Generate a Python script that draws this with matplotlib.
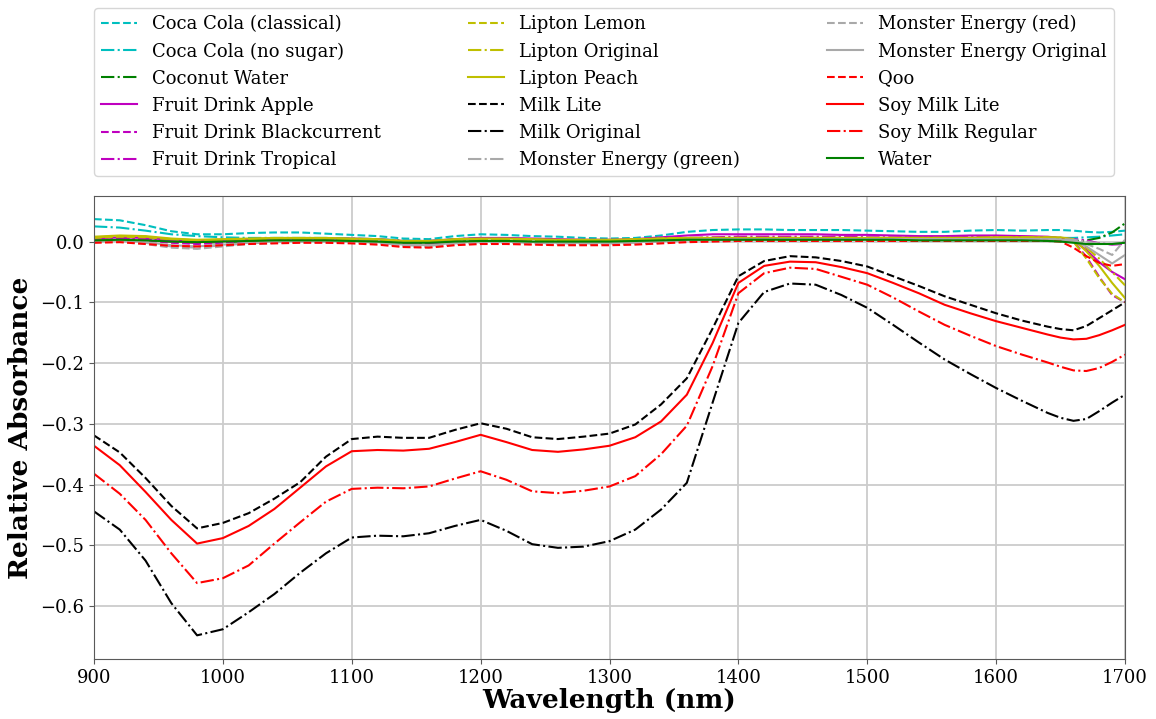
import matplotlib
matplotlib.use("Agg")
import matplotlib.pyplot as plt

# ==================== DATEN ====================
# Wellenlaengen (nm): alle 20 nm, am Ende alle 10 nm
wavelength = [900, 920, 940, 960, 980, 1000, 1020, 1040, 1060, 1080,
              1100, 1120, 1140, 1160, 1180, 1200, 1220, 1240, 1260, 1280,
              1300, 1320, 1340, 1360, 1380, 1400, 1420, 1440, 1460, 1480,
              1500, 1520, 1540, 1560, 1580, 1600, 1620, 1640,
              1650, 1660, 1670, 1680, 1690, 1700]

coca_classical = [0.037, 0.035, 0.027, 0.017, 0.012, 0.012, 0.014, 0.015, 0.015, 0.013,
                  0.011, 0.009, 0.005, 0.004, 0.009, 0.012, 0.011, 0.009, 0.008, 0.006,
                  0.005, 0.006, 0.010, 0.016, 0.019, 0.020, 0.020, 0.019, 0.019, 0.019,
                  0.018, 0.017, 0.016, 0.016, 0.018, 0.019, 0.018, 0.019,
                  0.019, 0.018, 0.016, 0.015, 0.016, 0.018]
coca_nosugar = [0.025, 0.023, 0.018, 0.012, 0.009, 0.007, 0.006, 0.006, 0.006, 0.006,
                0.005, 0.004, 0.002, 0.001, 0.004, 0.006, 0.005, 0.004, 0.002, 0.001,
                0.000, 0.001, 0.003, 0.005, 0.006, 0.006, 0.006, 0.006, 0.006, 0.006,
                0.005, 0.005, 0.005, 0.005, 0.006, 0.006, 0.006, 0.006,
                0.006, 0.006, 0.007, 0.008, 0.010, 0.012]
coconut_water = [0.004, 0.005, 0.003, 0.000, -0.002, -0.001, 0.000, 0.001, 0.001, 0.001,
                 0.001, 0.000, -0.002, -0.002, 0.000, 0.001, 0.001, 0.000, 0.000, 0.000,
                 0.000, 0.001, 0.002, 0.003, 0.003, 0.003, 0.003, 0.003, 0.003, 0.003,
                 0.003, 0.003, 0.003, 0.003, 0.003, 0.003, 0.003, 0.003,
                 0.002, 0.001, 0.002, 0.006, 0.015, 0.030]
fruit_apple = [0.005, 0.007, 0.006, 0.003, 0.002, 0.003, 0.004, 0.005, 0.005, 0.005,
               0.005, 0.004, 0.001, 0.001, 0.004, 0.006, 0.006, 0.005, 0.004, 0.003,
               0.003, 0.004, 0.007, 0.010, 0.012, 0.012, 0.012, 0.012, 0.012, 0.011,
               0.011, 0.010, 0.009, 0.009, 0.010, 0.010, 0.009, 0.008,
               0.006, 0.002, -0.014, -0.034, -0.050, -0.062]
fruit_blackcurrent = [0.000, 0.003, 0.002, -0.002, -0.004, -0.002, 0.000, 0.001, 0.002, 0.002,
                      0.002, 0.000, -0.004, -0.005, -0.001, 0.001, 0.001, 0.000, -0.001, -0.001,
                      -0.001, 0.000, 0.002, 0.004, 0.005, 0.005, 0.006, 0.006, 0.006, 0.006,
                      0.005, 0.005, 0.005, 0.005, 0.005, 0.006, 0.006, 0.005,
                      0.004, 0.000, -0.025, -0.058, -0.088, -0.100]
fruit_tropical = [0.002, 0.005, 0.004, 0.000, -0.002, 0.000, 0.002, 0.003, 0.003, 0.003,
                  0.003, 0.002, -0.002, -0.003, 0.001, 0.003, 0.003, 0.002, 0.001, 0.001,
                  0.001, 0.002, 0.004, 0.006, 0.007, 0.008, 0.008, 0.008, 0.008, 0.008,
                  0.007, 0.007, 0.007, 0.007, 0.008, 0.008, 0.008, 0.007,
                  0.006, 0.004, 0.002, -0.003, -0.005, -0.004]
lipton_lemon = [0.006, 0.008, 0.007, 0.004, 0.002, 0.003, 0.004, 0.005, 0.005, 0.005,
                0.004, 0.003, 0.000, 0.000, 0.003, 0.004, 0.004, 0.003, 0.002, 0.002,
                0.002, 0.003, 0.005, 0.006, 0.006, 0.006, 0.006, 0.006, 0.006, 0.006,
                0.006, 0.006, 0.006, 0.006, 0.006, 0.006, 0.006, 0.006,
                0.005, 0.000, -0.028, -0.060, -0.086, -0.100]
lipton_original = [0.007, 0.009, 0.008, 0.004, 0.002, 0.003, 0.004, 0.005, 0.005, 0.005,
                   0.004, 0.003, 0.001, 0.000, 0.003, 0.004, 0.004, 0.003, 0.002, 0.002,
                   0.002, 0.003, 0.005, 0.006, 0.006, 0.006, 0.006, 0.006, 0.006, 0.006,
                   0.006, 0.006, 0.006, 0.006, 0.006, 0.007, 0.007, 0.007,
                   0.006, 0.003, -0.010, -0.028, -0.050, -0.072]
lipton_peach = [0.008, 0.010, 0.009, 0.005, 0.003, 0.004, 0.005, 0.006, 0.006, 0.006,
                0.005, 0.004, 0.001, 0.001, 0.004, 0.005, 0.005, 0.004, 0.003, 0.003,
                0.003, 0.004, 0.005, 0.006, 0.006, 0.006, 0.006, 0.006, 0.006, 0.006,
                0.006, 0.006, 0.006, 0.006, 0.006, 0.007, 0.007, 0.007,
                0.007, 0.004, -0.016, -0.040, -0.068, -0.093]
milk_lite = [-0.319, -0.347, -0.389, -0.435, -0.472, -0.463, -0.447, -0.423, -0.396, -0.354,
             -0.325, -0.321, -0.323, -0.323, -0.310, -0.299, -0.308, -0.322, -0.325, -0.321,
             -0.316, -0.301, -0.268, -0.225, -0.143, -0.057, -0.032, -0.024, -0.026, -0.032,
             -0.041, -0.057, -0.073, -0.090, -0.104, -0.118, -0.130, -0.140,
             -0.144, -0.146, -0.139, -0.126, -0.113, -0.100]
milk_original = [-0.444, -0.474, -0.525, -0.595, -0.648, -0.638, -0.610, -0.580, -0.545, -0.513,
                 -0.487, -0.484, -0.485, -0.480, -0.468, -0.458, -0.476, -0.498, -0.504, -0.502,
                 -0.493, -0.474, -0.441, -0.397, -0.265, -0.134, -0.083, -0.069, -0.071, -0.088,
                 -0.109, -0.137, -0.166, -0.194, -0.218, -0.241, -0.262, -0.282,
                 -0.290, -0.295, -0.292, -0.279, -0.265, -0.252]
monster_green = [0.000, 0.001, -0.002, -0.008, -0.010, -0.006, -0.003, -0.001, 0.000, 0.000,
                 0.000, -0.002, -0.006, -0.007, -0.003, -0.001, -0.001, -0.002, -0.003, -0.003,
                 -0.003, -0.002, 0.000, 0.002, 0.003, 0.003, 0.003, 0.004, 0.004, 0.004,
                 0.004, 0.004, 0.004, 0.004, 0.004, 0.004, 0.004, 0.004,
                 0.004, 0.003, 0.000, -0.003, -0.004, -0.002]
monster_red = [-0.001, 0.000, -0.004, -0.010, -0.012, -0.008, -0.004, -0.002, -0.001, -0.001,
               -0.001, -0.003, -0.008, -0.009, -0.004, -0.002, -0.002, -0.003, -0.004, -0.004,
               -0.004, -0.003, -0.001, 0.001, 0.002, 0.002, 0.003, 0.003, 0.003, 0.003,
               0.003, 0.003, 0.003, 0.003, 0.003, 0.003, 0.004, 0.004,
               0.003, 0.001, -0.004, -0.012, -0.022, 0.003]
monster_original = [0.001, 0.002, -0.001, -0.006, -0.008, -0.005, -0.002, 0.000, 0.001, 0.001,
                    0.001, -0.001, -0.005, -0.006, -0.002, 0.000, 0.000, -0.001, -0.002, -0.002,
                    -0.002, -0.001, 0.001, 0.003, 0.004, 0.004, 0.004, 0.004, 0.004, 0.004,
                    0.004, 0.004, 0.004, 0.004, 0.004, 0.004, 0.004, 0.004,
                    0.003, 0.001, -0.008, -0.022, -0.036, -0.022]
qoo = [-0.002, -0.001, -0.004, -0.007, -0.008, -0.006, -0.004, -0.003, -0.002, -0.002,
       -0.003, -0.005, -0.009, -0.010, -0.006, -0.004, -0.004, -0.005, -0.006, -0.006,
       -0.006, -0.005, -0.003, -0.001, 0.000, 0.001, 0.001, 0.001, 0.001, 0.001,
       0.001, 0.001, 0.001, 0.001, 0.001, 0.001, 0.001, 0.001,
       0.000, -0.010, -0.024, -0.035, -0.040, -0.037]
soy_lite = [-0.336, -0.368, -0.412, -0.458, -0.497, -0.488, -0.468, -0.440, -0.405, -0.370,
            -0.345, -0.343, -0.344, -0.341, -0.330, -0.318, -0.330, -0.343, -0.346, -0.342,
            -0.336, -0.322, -0.296, -0.252, -0.167, -0.068, -0.040, -0.033, -0.034, -0.042,
            -0.052, -0.068, -0.085, -0.104, -0.118, -0.131, -0.142, -0.153,
            -0.158, -0.161, -0.160, -0.154, -0.146, -0.137]
soy_regular = [-0.382, -0.415, -0.458, -0.513, -0.562, -0.554, -0.533, -0.497, -0.462, -0.428,
               -0.407, -0.405, -0.406, -0.403, -0.390, -0.378, -0.392, -0.411, -0.414, -0.410,
               -0.403, -0.386, -0.350, -0.303, -0.205, -0.085, -0.052, -0.043, -0.045, -0.058,
               -0.071, -0.092, -0.115, -0.137, -0.155, -0.172, -0.186, -0.199,
               -0.206, -0.212, -0.213, -0.208, -0.198, -0.186]
water = [0.002, 0.003, 0.002, 0.000, -0.001, 0.000, 0.001, 0.002, 0.002, 0.002,
         0.001, 0.000, -0.002, -0.002, 0.000, 0.001, 0.001, 0.000, 0.000, 0.000,
         0.000, 0.001, 0.002, 0.003, 0.003, 0.003, 0.003, 0.003, 0.003, 0.003,
         0.003, 0.003, 0.002, 0.002, 0.002, 0.002, 0.002, 0.001,
         0.000, -0.002, -0.004, -0.004, -0.004, -0.002]

# (Name, Werte, Farbe, Linienstil)
series = [
    ("Coca Cola (classical)", coca_classical, "c", "--"),
    ("Coca Cola (no sugar)", coca_nosugar, "c", "-."),
    ("Coconut Water", coconut_water, "g", "-."),
    ("Fruit Drink Apple", fruit_apple, "m", "-"),
    ("Fruit Drink Blackcurrent", fruit_blackcurrent, "m", "--"),
    ("Fruit Drink Tropical", fruit_tropical, "m", "-."),
    ("Lipton Lemon", lipton_lemon, "y", "--"),
    ("Lipton Original", lipton_original, "y", "-."),
    ("Lipton Peach", lipton_peach, "y", "-"),
    ("Milk Lite", milk_lite, "k", "--"),
    ("Milk Original", milk_original, "k", "-."),
    ("Monster Energy (green)", monster_green, "darkgrey", "-."),
    ("Monster Energy (red)", monster_red, "darkgrey", "--"),
    ("Monster Energy Original", monster_original, "darkgrey", "-"),
    ("Qoo", qoo, "r", "--"),
    ("Soy Milk Lite", soy_lite, "r", "-"),
    ("Soy Milk Regular", soy_regular, "r", "-."),
    ("Water", water, "g", "-"),
]
# ===============================================

plt.rcParams["font.family"] = "serif"
plt.rcParams["font.serif"] = ["DejaVu Serif"]

fig = plt.figure(figsize=(11.56, 7.19), dpi=100)
ax = fig.add_axes([0.0813, 0.0834, 0.8919, 0.644])

for name, vals, col, ls in series:
    ax.plot(wavelength, vals, color=col, linestyle=ls, linewidth=1.5, label=name)

ax.set_xlim(900, 1700)
ax.set_ylim(-0.687, 0.075)
ax.grid(True, color="0.8", linewidth=1.3)
ax.set_axisbelow(True)
for sp in ax.spines.values():
    sp.set_color("0.35")
ax.tick_params(labelsize=13, color="0.35")

ax.set_xlabel("Wavelength (nm)", fontsize=19, fontweight="bold", labelpad=1)
ax.set_ylabel("Relative Absorbance", fontsize=19, fontweight="bold", labelpad=5)

ax.legend(ncol=3, fontsize=13, loc="lower left", mode="expand",
          bbox_to_anchor=(0, 1.043, 0.989, 0.3), borderaxespad=0)

plt.savefig("out.png", dpi=100)
